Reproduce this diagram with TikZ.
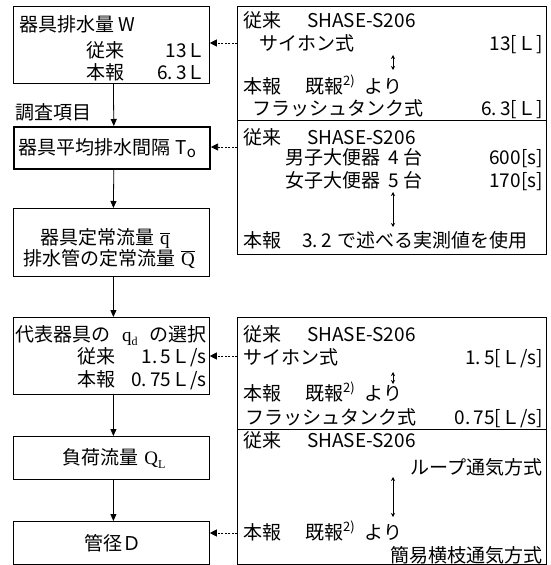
\documentclass[tikz,border=0pt]{standalone}
\usepackage{fontspec}
\setmainfont{Noto Sans CJK JP}
\newfontfamily\lmr{Liberation Serif}
\usetikzlibrary{arrows.meta}
\newcommand{\refsup}{\raisebox{0.42em}{\fontsize{13}{13}\selectfont 2)}}
\newcommand{\serifsub}[2]{{\lmr #1}\raisebox{-0.25em}{\fontsize{12}{12}\selectfont\lmr #2}}
\begin{document}
\begin{tikzpicture}[x=1pt,y=-1pt,
  box/.style={draw=black,line width=0.8pt,anchor=north west,inner sep=0pt},
  txt/.style={inner sep=0pt,font=\fontsize{19}{22}\selectfont},
  flow/.style={-{Triangle[length=7pt,width=6pt]},line width=0.8pt},
  dasharr/.style={-{Triangle[length=7pt,width=7pt]},line width=0.7pt,dash pattern=on 2pt off 1.5pt},
  dbl/.style={{Stealth[length=4pt,width=4pt]}-{Stealth[length=4pt,width=4pt]},line width=0.6pt}]
\useasboundingbox (0,0) rectangle (550,565);
% left boxes
\node[box,minimum width=196,minimum height=77] (b1) at (13,6) {};
\node[box,line width=1.6pt,minimum width=196,minimum height=42] (b2) at (13,126) {};
\node[box,minimum width=196,minimum height=68] (b3) at (13,208) {};
\node[box,minimum width=196,minimum height=77] (b4) at (13,317) {};
\node[box,minimum width=196,minimum height=43] (b5) at (13,436) {};
\node[box,minimum width=196,minimum height=43] (b6) at (13,521) {};
% right boxes
\node[box,minimum width=309,minimum height=114] (ra) at (237,6) {};
\node[box,minimum width=309,minimum height=134] (rb) at (237,120) {};
\node[box,minimum width=309,minimum height=112] (rc) at (237,317) {};
\node[box,minimum width=309,minimum height=135] (rd) at (237,429) {};
% b1 texts
\node[txt,anchor=base west] (t11) at (19,31) {器具排水量 W};
\node[txt,anchor=base west] (t12) at (86,57) {従来};
\node[txt,anchor=base east] (t13) at (206,57) {13Ｌ};
\node[txt,anchor=base west] (t14) at (86,79) {本報};
\node[txt,anchor=base east] (t15) at (206,79) {6.\,3Ｌ};
\node[txt,anchor=base west] (lab) at (15,119) {調査項目};
% b2
\node[txt,anchor=base west] (t21) at (18,154) {器具平均排水間隔 \hspace{1pt}T\raisebox{-0.3ex}{\fontsize{15}{15}\selectfont o}};
% b3
\node[txt,anchor=base west] (t31) at (40,244) {器具定常流量\hspace{6pt}\smash{$\overline{\hbox{\lmr q}}$}};
\node[txt,anchor=base west] (t32) at (23,265) {排水管の定常流量\hspace{6pt}\smash{$\overline{\hbox{\lmr Q}}$}};
% b4
\node[txt,anchor=base west] (t41) at (15,341) {代表器具の};
\node[txt,anchor=base west] (t42) at (122,341) {\serifsub{q}{d}};
\node[txt,anchor=base east] (t43) at (207,341) {の選択};
\node[txt,anchor=base west] (t44) at (77,363) {従来};
\node[txt,anchor=base east] (t45) at (207,363) {1.\,5Ｌ/s};
\node[txt,anchor=base west] (t46) at (77,386) {本報};
\node[txt,anchor=base east] (t47) at (207,386) {0.\,75Ｌ/s};
% b5, b6
\node[txt,anchor=base] (t51) at (114,464) {負荷流量\hspace{6pt}\serifsub{Q}{L}};
\node[txt,anchor=base] (t61) at (113,550) {管径Ｄ};
% ra
\node[txt,anchor=base west] (a1) at (243,27) {従来\hspace{26pt}SHASE-S206};
\node[txt,anchor=base west] (a2) at (259,50) {サイホン式};
\node[txt,anchor=base east] (a3) at (543,50) {13[Ｌ]};
\node[txt,anchor=base west] (a4) at (243,93) {本報\hspace{24pt}既報\refsup\hspace{10pt}より};
\node[txt,anchor=base west] (a5) at (252,115) {フラッシュタンク式};
\node[txt,anchor=base east] (a6) at (543,115) {6.\,3[Ｌ]};
\coordinate (da1) at (393,55); \coordinate (da2) at (393,70);
\draw[dbl] (da1) -- (da2);
% rb
\node[txt,anchor=base west] (c1) at (243,144) {従来\hspace{26pt}SHASE-S206};
\node[txt,anchor=base west] (c2) at (285,164) {男子大便器\hspace{8pt}4\hspace{5pt}台};
\node[txt,anchor=base east] (c3) at (543,164) {600[s]};
\node[txt,anchor=base west] (c4) at (285,187) {女子大便器\hspace{8pt}5\hspace{5pt}台};
\node[txt,anchor=base east] (c5) at (543,187) {170[s]};
\node[txt,anchor=base west] (c6) at (243,247) {本報\hspace{21pt}3.\,2\hspace{6pt}で述べる実測値を使用};
\coordinate (db1) at (393,192); \coordinate (db2) at (393,227);
\draw[dbl] (db1) -- (db2);
% rc
\node[txt,anchor=base west] (e1) at (243,341) {従来\hspace{26pt}SHASE-S206};
\node[txt,anchor=base west] (e2) at (243,364) {サイホン式};
\node[txt,anchor=base east] (e3) at (543,364) {1.\,5[Ｌ/s]};
\node[txt,anchor=base west] (e4) at (243,400) {本報\hspace{24pt}既報\refsup\hspace{10pt}より};
\node[txt,anchor=base west] (e5) at (245,424) {フラッシュタンク式};
\node[txt,anchor=base east] (e6) at (543,424) {0.\,75[Ｌ/s]};
\coordinate (dc1) at (393,372); \coordinate (dc2) at (393,384);
\draw[dbl] (dc1) -- (dc2);
% rd
\node[txt,anchor=base west] (f1) at (243,447) {従来\hspace{26pt}SHASE-S206};
\node[txt,anchor=base east] (f2) at (543,474) {ループ通気方式};
\node[txt,anchor=base west] (f3) at (243,539) {本報\hspace{24pt}既報\refsup\hspace{10pt}より};
\node[txt,anchor=base east] (f4) at (543,562) {簡易横枝通気方式};
\coordinate (dd1) at (393,477); \coordinate (dd2) at (393,517);
\draw[dbl] (dd1) -- (dd2);
% flow arrows
\draw[flow] ([xshift=2pt]b1.south) -- ([xshift=2pt]b2.north);
\draw[flow] ([xshift=2pt]b2.south) -- ([xshift=2pt]b3.north);
\draw[flow] ([xshift=2pt]b3.south) -- ([xshift=2pt]b4.north);
\draw[flow] ([xshift=2pt]b4.south) -- ([xshift=2pt]b5.north);
\draw[flow] ([xshift=2pt]b5.south) -- ([xshift=2pt]b6.north);
% dashed arrows
\coordinate (p1) at (237,43);
\coordinate (p2) at (237,147);
\coordinate (p3) at (237,356);
\coordinate (p4) at (237,533);
\draw[dasharr] (p1) -- (b1.east |- p1);
\draw[dasharr] (p2) -- ([xshift=0.4pt]b2.east |- p2);
\draw[dasharr] (p3) -- (b4.east |- p3);
\draw[dasharr] (p4) -- (b6.east |- p4);
\end{tikzpicture}
\end{document}
